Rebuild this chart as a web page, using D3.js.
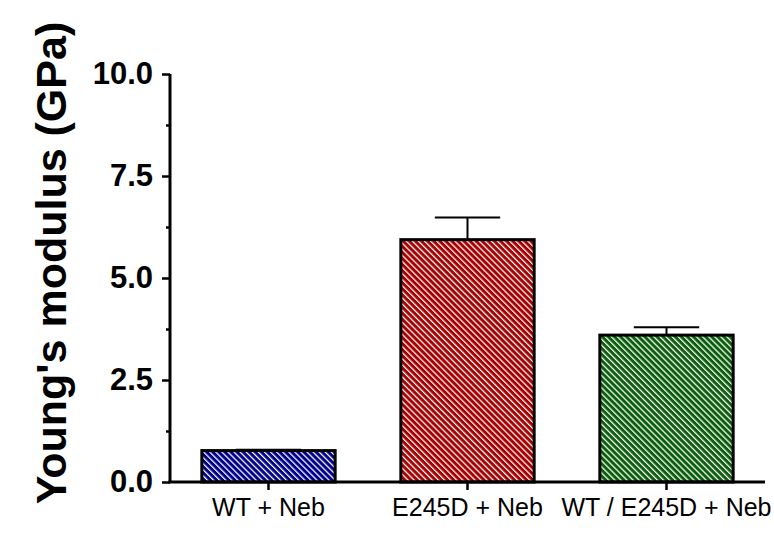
<!DOCTYPE html>
<html>
<head>
<meta charset="utf-8">
<script src="https://cdn.jsdelivr.net/npm/d3@7"></script>
<style>
  body { margin: 0; background: #fff; }
  svg { display: block; }
</style>
</head>
<body>
<svg id="chart" width="774" height="537"></svg>
<script>
// data
var groups = ["WT + Neb", "E245D + Neb", "WT / E245D + Neb"]
var means = [0.77, 5.94, 3.60]
var errs = [0.02, 0.54, 0.19]
var colors = ["#00008b", "#a80000", "#0b5e0b"]
var yTicks = [0, 2.5, 5, 7.5, 10]
var yMinor = [1.25, 3.75, 6.25, 8.75]

var svg = d3.select('#chart')

var x0 = 170, x1 = 765
var yTop = 74, yBot = 482

var x = d3.scaleBand()
  .domain(groups)
  .range([x0, x1])
  .paddingInner(0.33)
  .paddingOuter(0.16)

var y = d3.scaleLinear()
  .domain([0, 10])
  .range([yBot, yTop])

// hatch patterns, one per bar colour
var defs = svg.append('defs')
colors.forEach(function(c, i) {
  var p = defs.append('pattern')
    .attr('id', 'hatch' + i)
    .attr('patternUnits', 'userSpaceOnUse')
    .attr('width', 4.3)
    .attr('height', 4.3)
    .attr('patternTransform', 'rotate(-45)')
  p.append('rect').attr('width', 4.3).attr('height', 4.3).attr('fill', c)
  p.append('rect').attr('x', 0).attr('width', 1.25).attr('height', 4.3).attr('fill', '#fff')
})

// bars
var bars = svg.selectAll('.bar')
  .data(groups)
  .join('rect')
    .attr('class', 'bar')
    .attr('x', d => x(d))
    .attr('width', x.bandwidth())
    .attr('y', (d, i) => y(means[i]))
    .attr('height', (d, i) => y(0) - y(means[i]))
    .attr('fill', (d, i) => 'url(#hatch' + i + ')')
    .attr('stroke', '#000')
    .attr('stroke-width', 3)

// error bars (upper only)
var capW = x.bandwidth() * 0.49
var eb = svg.selectAll('.err')
  .data(groups)
  .join('g')
    .attr('class', 'err')
eb.append('line')
  .attr('x1', d => x(d) + x.bandwidth() / 2)
  .attr('x2', d => x(d) + x.bandwidth() / 2)
  .attr('y1', (d, i) => y(means[i]))
  .attr('y2', (d, i) => y(means[i] + errs[i]))
  .attr('stroke', '#000').attr('stroke-width', 2)
eb.append('line')
  .attr('x1', d => x(d) + x.bandwidth() / 2 - capW / 2)
  .attr('x2', d => x(d) + x.bandwidth() / 2 + capW / 2)
  .attr('y1', (d, i) => y(means[i] + errs[i]))
  .attr('y2', (d, i) => y(means[i] + errs[i]))
  .attr('stroke', '#000').attr('stroke-width', 2)

// y axis
var yAxis = svg.append('g')
  .attr('transform', 'translate(' + x0 + ',0)')
  .call(d3.axisLeft(y).tickValues(yTicks).tickFormat(d3.format('.1f')).tickSize(8).tickPadding(9))
yAxis.select('.domain').attr('stroke-width', 3).attr('d', 'M0,' + yTop + 'V' + yBot)
yAxis.selectAll('.tick line').attr('stroke-width', 2.5)
yAxis.selectAll('.tick text')
  .attr('font-family', 'Liberation Sans, Arial, sans-serif')
  .attr('font-weight', 'bold')
  .attr('font-size', 31)
  .attr('fill', '#000')

var yAxisMinor = svg.append('g')
  .attr('transform', 'translate(' + x0 + ',0)')
  .call(d3.axisLeft(y).tickValues(yMinor).tickFormat('').tickSize(4))
yAxisMinor.select('.domain').remove()
yAxisMinor.selectAll('.tick line').attr('stroke-width', 2.5)

// x axis
var xAxis = svg.append('g')
  .attr('transform', 'translate(0,' + yBot + ')')
  .call(d3.axisBottom(x).tickSize(8).tickPadding(8))
xAxis.select('.domain').attr('stroke-width', 3).attr('d', 'M' + (x0 - 1.5) + ',0H' + x1)
xAxis.selectAll('.tick line').attr('stroke-width', 2.5)
xAxis.selectAll('.tick text')
  .attr('font-family', 'Liberation Sans, Arial, sans-serif')
  .attr('font-size', 25)
  .attr('fill', '#000')

// y title
svg.append('text')
  .attr('transform', 'translate(66,263) rotate(-90)')
  .attr('text-anchor', 'middle')
  .attr('font-family', 'Liberation Sans, Arial, sans-serif')
  .attr('font-weight', 'bold')
  .attr('font-size', 43)
  .attr('fill', '#000')
  .text("Young's modulus (GPa)")
</script>
</body>
</html>
